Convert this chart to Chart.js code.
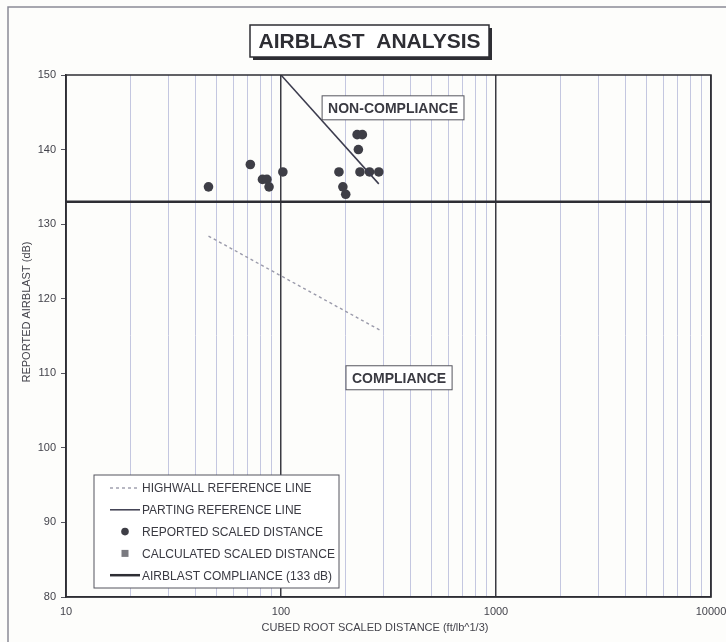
<!DOCTYPE html>
<html>
<head>
<meta charset="utf-8">
<script src="https://cdn.jsdelivr.net/npm/chart.js@4.4.1/dist/chart.umd.min.js"></script>
<style>
  html, body { margin: 0; padding: 0; background: #fdfdfb; }
  #wrap { width: 726px; height: 642px; }
</style>
</head>
<body>
<div id="wrap"><canvas id="chart" width="726" height="642"></canvas></div>
<script>
const chartTitle = "AIRBLAST  ANALYSIS";
const xTitle = "CUBED ROOT SCALED DISTANCE (ft/lb^1/3)";
const yTitle = "REPORTED AIRBLAST (dB)";

// reported blasts (scaled distance, dB)
const reportedX = [46, 72, 82, 86, 88, 102, 186, 194, 200, 226, 239, 229, 233, 258, 285];
const reportedY = [135, 138, 136, 136, 135, 137, 137, 135, 134, 142, 142, 140, 137, 137, 137];

// reference lines
const highwallX = [46, 288];
const highwallY = [128.4, 115.8];
const partingX = [100, 285];
const partingY = [150, 135.4];
const complianceX = [10, 10000];
const complianceY = [133, 133];

const seriesLabels = [
  "HIGHWALL REFERENCE LINE",
  "PARTING REFERENCE LINE",
  "REPORTED SCALED DISTANCE",
  "CALCULATED SCALED DISTANCE",
  "AIRBLAST COMPLIANCE (133 dB)"
];

const zoneLabels = ["NON-COMPLIANCE", "COMPLIANCE"];
const zoneX = [332, 354];
const zoneY = [145.6, 109.4];

const xGridValues = [10, 20, 30, 40, 50, 60, 70, 80, 90,
  100, 200, 300, 400, 500, 600, 700, 800, 900,
  1000, 2000, 3000, 4000, 5000, 6000, 7000, 8000, 9000, 10000];
const xTickLabels = ["10", "100", "1000", "10000"];
const yTicks = [80, 90, 100, 110, 120, 130, 140, 150];

const FONT = "'Liberation Sans', Arial, sans-serif";
const INK = "#3a3a42";

const toPts = (xs, ys) => xs.map((x, i) => ({ x: x, y: ys[i] }));
const isDecade = v => xTickLabels.includes(String(v));

const decorPlugin = {
  id: "decor",
  beforeDraw(chart) {
    const ctx = chart.ctx;
    ctx.save();
    ctx.fillStyle = "#fdfdfb";
    ctx.fillRect(0, 0, chart.width, chart.height);
    // outer scan frame
    ctx.strokeStyle = "#8a8a96";
    ctx.lineWidth = 1.5;
    ctx.beginPath();
    ctx.moveTo(8, chart.height);
    ctx.lineTo(8, 7);
    ctx.lineTo(chart.width, 7);
    ctx.stroke();
    // title box with shadow
    const bx = 250, by = 25, bw = 239, bh = 32;
    ctx.fillStyle = "#2e2e34";
    ctx.fillRect(bx + 3, by + 3, bw, bh);
    ctx.fillStyle = "#ffffff";
    ctx.fillRect(bx, by, bw, bh);
    ctx.strokeStyle = "#2e2e34";
    ctx.lineWidth = 1.5;
    ctx.strokeRect(bx, by, bw, bh);
    ctx.fillStyle = "#2e2e34";
    ctx.font = "bold 21px " + FONT;
    ctx.textAlign = "center";
    ctx.textBaseline = "middle";
    ctx.fillText(chartTitle, bx + bw / 2, by + bh / 2 + 1);
    ctx.restore();
  },
  afterDatasetsDraw(chart) {
    const ctx = chart.ctx;
    const ca = chart.chartArea;
    const xs = chart.scales.x, ys = chart.scales.y;
    ctx.save();

    // plot frame
    ctx.strokeStyle = "#2e2e34";
    ctx.lineWidth = 1.5;
    ctx.strokeRect(ca.left, ca.top, ca.right - ca.left, ca.bottom - ca.top);

    // zone labels
    ctx.font = "bold 14px " + FONT;
    ctx.textAlign = "center";
    ctx.textBaseline = "middle";
    zoneLabels.forEach((t, i) => {
      const cx = xs.getPixelForValue(zoneX[i]);
      const cy = ys.getPixelForValue(zoneY[i]);
      const w = ctx.measureText(t).width + 12;
      const h = 24;
      ctx.fillStyle = "#ffffff";
      ctx.fillRect(cx - w / 2, cy - h / 2, w, h);
      ctx.strokeStyle = "#55555e";
      ctx.lineWidth = 1;
      ctx.strokeRect(cx - w / 2, cy - h / 2, w, h);
      ctx.fillStyle = INK;
      ctx.fillText(t, cx, cy + 1);
    });

    // legend
    const lx = 94, ly = 475, lw = 245, lh = 113;
    ctx.fillStyle = "#ffffff";
    ctx.fillRect(lx, ly, lw, lh);
    ctx.strokeStyle = "#55555e";
    ctx.lineWidth = 1;
    ctx.strokeRect(lx, ly, lw, lh);
    ctx.font = "12px " + FONT;
    ctx.textAlign = "left";
    chart.data.datasets.forEach((ds, i) => {
      const ry = ly + 13 + i * 21.8;
      const sx0 = lx + 16, sx1 = lx + 46, sc = (sx0 + sx1) / 2;
      if (ds.showLine) {
        ctx.strokeStyle = ds.borderColor;
        ctx.lineWidth = ds.borderWidth;
        ctx.setLineDash(ds.borderDash || []);
        ctx.beginPath();
        ctx.moveTo(sx0, ry);
        ctx.lineTo(sx1, ry);
        ctx.stroke();
        ctx.setLineDash([]);
      } else if (ds.pointStyle === "rect") {
        ctx.fillStyle = ds.backgroundColor;
        ctx.fillRect(sc - 3.5, ry - 3.5, 7, 7);
      } else {
        ctx.fillStyle = ds.backgroundColor;
        ctx.beginPath();
        ctx.arc(sc, ry, 3.8, 0, Math.PI * 2);
        ctx.fill();
      }
      ctx.fillStyle = INK;
      ctx.fillText(ds.label, lx + 48, ry + 1);
    });

    // axis titles
    ctx.fillStyle = "#44444c";
    ctx.font = "11px " + FONT;
    ctx.textAlign = "center";
    ctx.fillText(xTitle, 375, 628);
    ctx.translate(27, 312);
    ctx.rotate(-Math.PI / 2);
    ctx.fillText(yTitle, 0, 0);
    ctx.restore();
  }
};

new Chart(document.getElementById("chart"), {
  type: "scatter",
  data: {
    datasets: [
      {
        label: seriesLabels[0],
        data: toPts(highwallX, highwallY),
        showLine: true,
        borderColor: "#9a9aaa",
        borderWidth: 1.4,
        borderDash: [3, 3],
        pointRadius: 0
      },
      {
        label: seriesLabels[1],
        data: toPts(partingX, partingY),
        showLine: true,
        borderColor: "#3c3c4e",
        borderWidth: 1.5,
        pointRadius: 0
      },
      {
        label: seriesLabels[2],
        data: toPts(reportedX, reportedY),
        showLine: false,
        backgroundColor: "#3e3e46",
        borderWidth: 0,
        pointRadius: 4.8,
        pointStyle: "circle"
      },
      {
        label: seriesLabels[3],
        data: [],
        showLine: false,
        backgroundColor: "#7a7a80",
        pointStyle: "rect",
        pointRadius: 4
      },
      {
        label: seriesLabels[4],
        data: toPts(complianceX, complianceY),
        showLine: true,
        borderColor: "#2e2e34",
        borderWidth: 2.5,
        pointRadius: 0
      }
    ]
  },
  options: {
    responsive: false,
    animation: false,
    layout: { padding: { top: 75, right: 15, left: 0, bottom: 0 } },
    plugins: {
      legend: { display: false },
      tooltip: { enabled: false },
      title: { display: false }
    },
    scales: {
      x: {
        type: "logarithmic",
        min: 10,
        max: 10000,
        afterBuildTicks: scale => {
          scale.ticks = xGridValues.map(v => ({ value: v }));
        },
        afterFit: scale => {
          scale.height = 45;
          scale.paddingLeft = 0;
          scale.paddingRight = 0;
        },
        ticks: {
          autoSkip: false,
          maxRotation: 0,
          padding: 8,
          color: "#44444c",
          font: { family: FONT, size: 11 },
          callback: v => (isDecade(v) ? String(v) : "")
        },
        grid: {
          drawTicks: false,
          color: c => (c.tick && isDecade(c.tick.value) ? "#3a3a42" : "#c4c7e0"),
          lineWidth: c => (c.tick && isDecade(c.tick.value) ? 1.5 : 1)
        },
        border: { display: true, color: "#2e2e34", width: 1.5 }
      },
      y: {
        type: "linear",
        min: 80,
        max: 150,
        afterBuildTicks: scale => {
          scale.ticks = yTicks.map(v => ({ value: v }));
        },
        afterFit: scale => {
          scale.width = 66;
          scale.paddingTop = 0;
          scale.paddingBottom = 0;
        },
        ticks: {
          padding: 5,
          color: "#44444c",
          font: { family: FONT, size: 11 }
        },
        grid: {
          drawOnChartArea: false,
          drawTicks: true,
          tickLength: 5,
          color: "#55555e"
        },
        border: { display: true, color: "#2e2e34", width: 1.5 }
      }
    }
  },
  plugins: [decorPlugin]
});
</script>
</body>
</html>
